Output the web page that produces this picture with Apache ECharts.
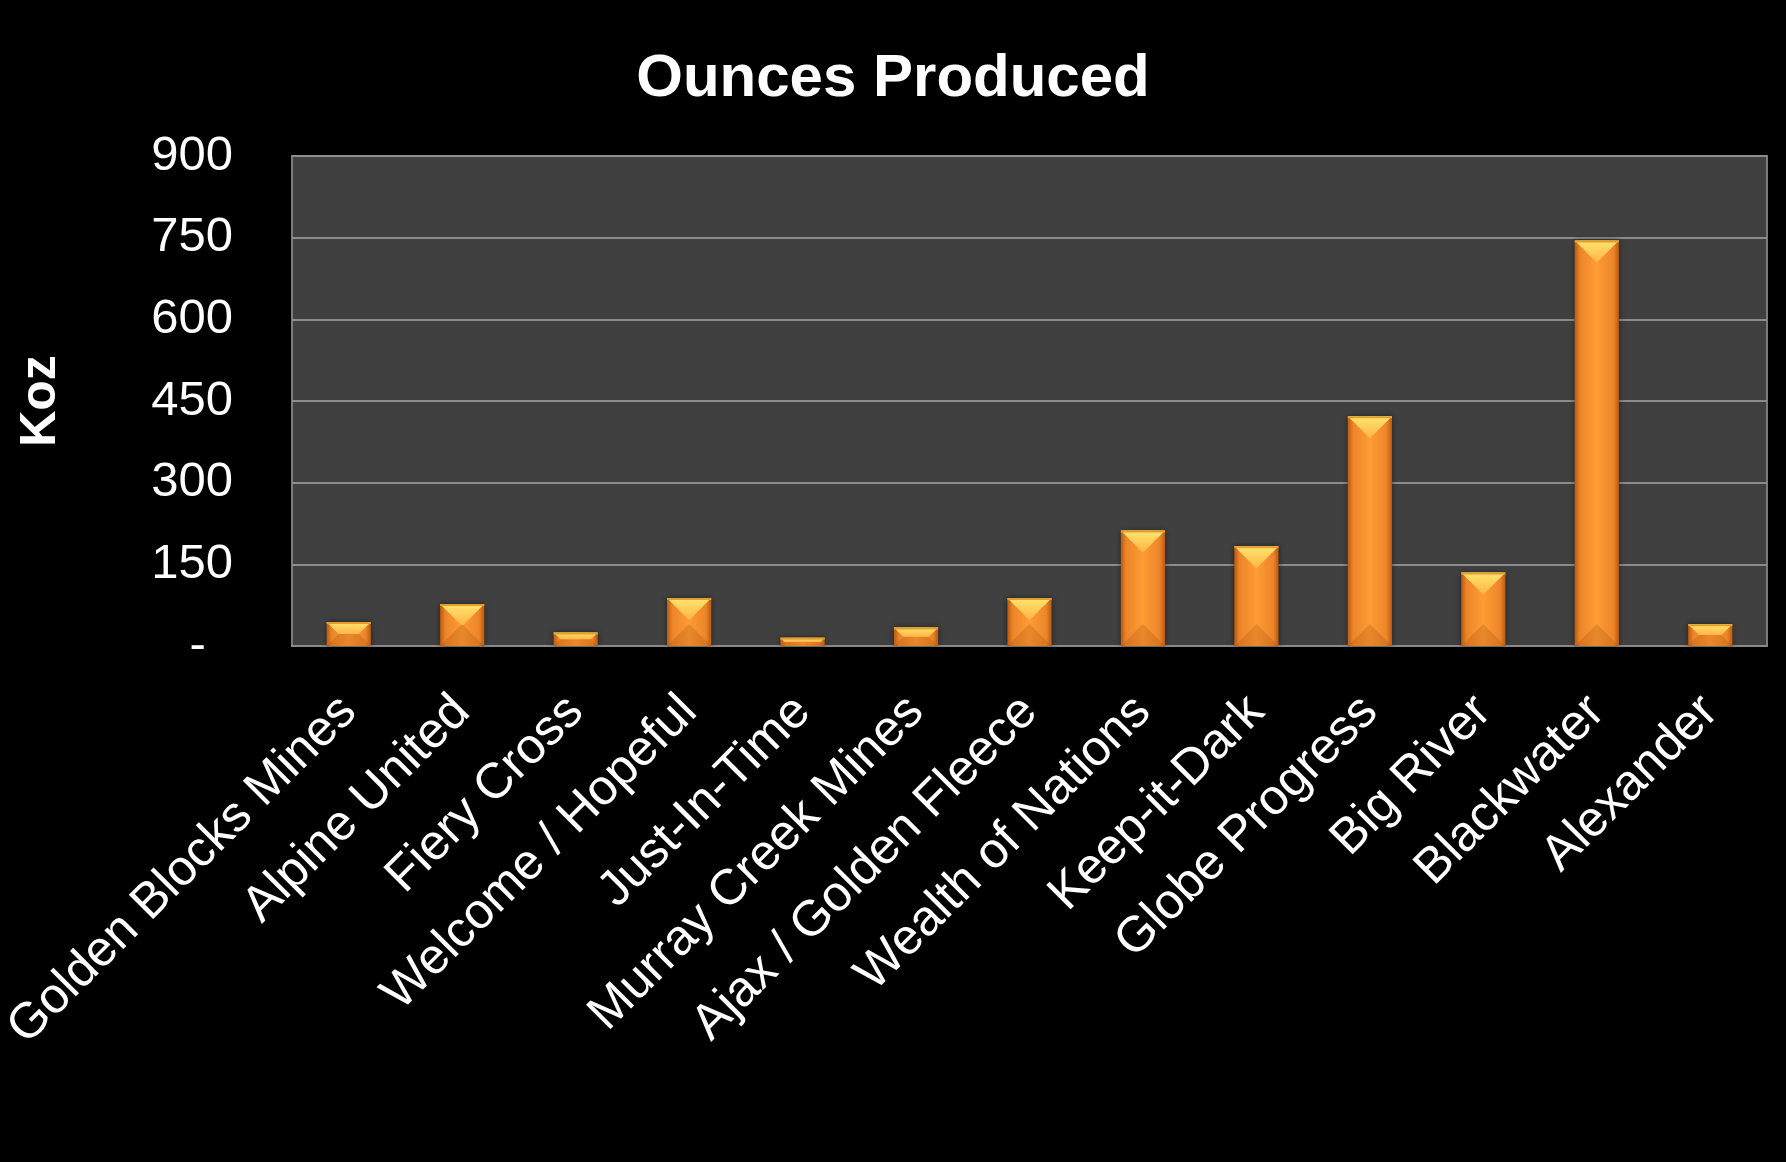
<!DOCTYPE html>
<html>
<head>
<meta charset="utf-8">
<style>
html,body{margin:0;padding:0;background:#000;}
#chart{width:1786px;height:1162px;}
</style>
<script src="https://cdn.jsdelivr.net/npm/echarts@6/dist/echarts.min.js"></script>
</head>
<body>
<div id="chart"></div>
<script>
var categories = ['Golden Blocks Mines','Alpine United','Fiery Cross','Welcome / Hopeful','Just-In-Time','Murray Creek Mines','Ajax / Golden Fleece','Wealth of Nations','Keep-it-Dark','Globe Progress','Big River','Blackwater','Alexander'];
var koz = [44, 77, 25, 88, 15, 34, 88, 212, 183, 422, 135, 745, 40];
var yTicks = [0, 150, 300, 450, 600, 750, 900];

var FONT = '"Liberation Sans", Arial, sans-serif';
var chart = echarts.init(document.getElementById('chart'), null, {renderer: 'canvas'});

function renderBar(params, api) {
  var idx = api.value(0), val = api.value(1);
  var base = api.coord([idx, 0]);
  var top = api.coord([idx, val]);
  var w = api.size([1, 0])[0] * 0.39;
  var x = base[0] - w / 2, cx = base[0];
  var yt = top[1], yb = base[1];
  var h = yb - yt;
  var full = w * 0.5;
  var d = Math.min(full, h * 0.5);
  var halfAtD = (w / 2) * (1 - d / full);
  var topPts = [[x, yt], [x + w, yt], [cx + halfAtD, yt + d], [cx - halfAtD, yt + d]];
  var db = Math.min(full, h * 0.5);
  var halfB = (w / 2) * (1 - db / full);
  var botPts = [[x, yb], [x + w, yb], [cx + halfB, yb - db], [cx - halfB, yb - db]];
  return {
    type: 'group',
    children: [
      {
        type: 'rect',
        shape: {x: x, y: yt, width: w, height: h},
        style: {
          fill: new echarts.graphic.LinearGradient(0, 0, 1, 0, [
            {offset: 0, color: '#b85a10'},
            {offset: 0.12, color: '#ec852a'},
            {offset: 0.5, color: '#ff9c33'},
            {offset: 0.88, color: '#ec852a'},
            {offset: 1, color: '#b85a10'}
          ]),
          shadowColor: 'rgba(0,0,0,0.5)',
          shadowBlur: 6
        }
      },
      {
        type: 'polygon',
        shape: {points: botPts},
        style: {fill: 'rgba(150,70,10,0.22)'}
      },
      {
        type: 'polygon',
        shape: {points: topPts},
        style: {
          fill: new echarts.graphic.LinearGradient(0, 0, 0, 1, [
            {offset: 0, color: '#ffe56e'},
            {offset: 1, color: '#ffb447'}
          ])
        }
      },
      {
        type: 'rect',
        shape: {x: x, y: yt, width: w, height: Math.min(2, h)},
        style: {fill: '#e0a030'}
      }
    ]
  };
}

var option = {
  backgroundColor: '#000000',
  animation: false,
  title: {
    text: 'Ounces Produced',
    left: 'center',
    top: 44,
    textStyle: {color: '#ffffff', fontSize: 60, fontWeight: 'bold', fontFamily: FONT}
  },
  grid: {
    left: 292, right: 19, top: 156, bottom: 516,
    outerBoundsMode: 'none',
    containLabel: false,
    show: true,
    backgroundColor: '#404040',
    borderColor: '#7a7a7a',
    borderWidth: 2
  },
  xAxis: {
    type: 'category',
    data: categories,
    axisLine: {show: true, lineStyle: {color: '#8a8a8a', width: 2}},
    axisTick: {show: false},
    axisLabel: {
      interval: 0,
      rotate: 45,
      margin: 58,
      verticalAlign: 'middle',
      color: '#ffffff',
      fontSize: 50,
      fontFamily: FONT
    }
  },
  yAxis: {
    type: 'value',
    min: 0, max: 900, interval: 150,
    name: 'Koz',
    nameLocation: 'middle',
    nameRotate: 90,
    nameGap: 226,
    nameTextStyle: {color: '#ffffff', fontSize: 50, fontWeight: 'bold', fontFamily: FONT},
    axisLine: {show: false},
    axisTick: {show: false},
    splitLine: {show: true, lineStyle: {color: '#8c8c8c', width: 2}},
    axisLabel: {
      margin: 59,
      color: '#ffffff',
      fontSize: 49,
      fontFamily: FONT,
      formatter: function (v) { return yTicks.indexOf(v) === 0 ? '-  ' : String(v); }
    }
  },
  series: [{
    type: 'custom',
    renderItem: renderBar,
    encode: {x: 0, y: 1},
    data: koz.map(function (v, i) { return [i, v]; }),
    z: 5
  }]
};
chart.setOption(option);
</script>
</body>
</html>
